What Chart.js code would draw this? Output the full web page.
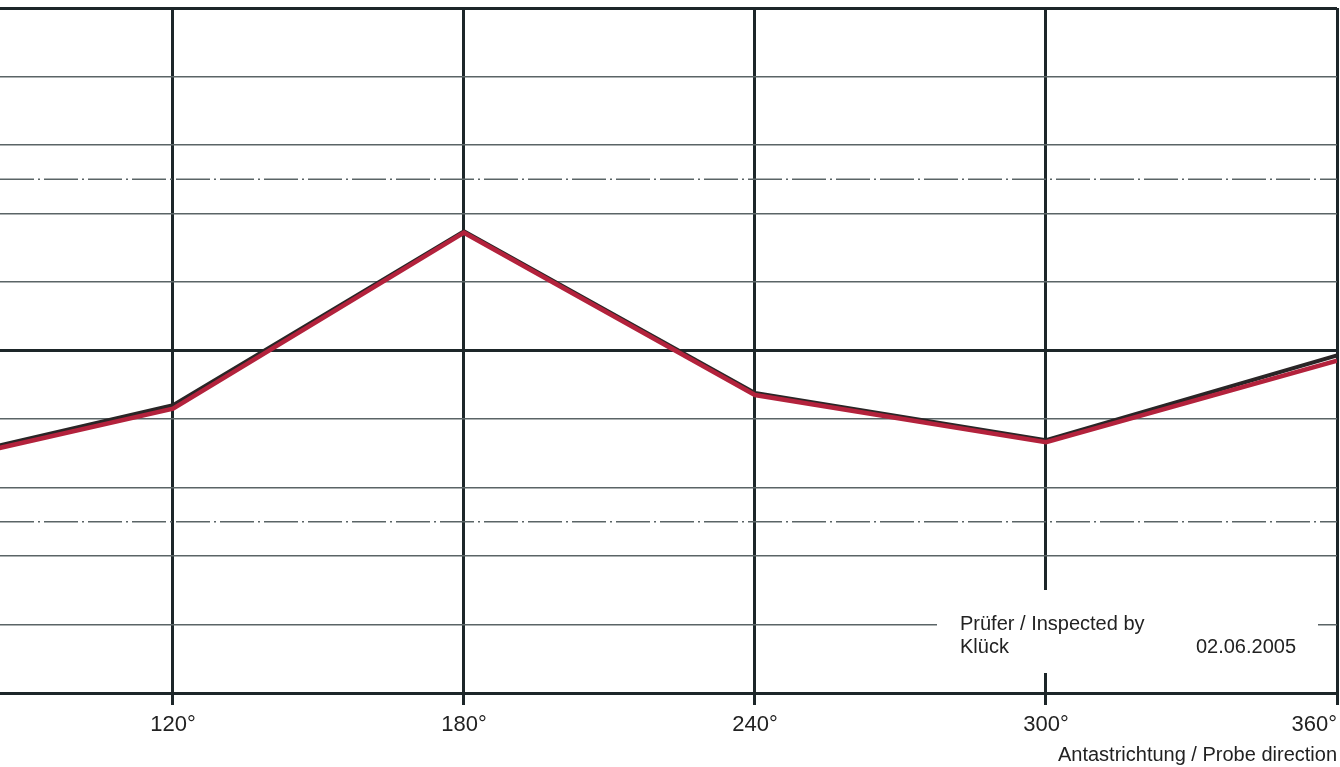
<!DOCTYPE html>
<html>
<head>
<meta charset="utf-8">
<script src="https://cdn.jsdelivr.net/npm/chart.js@4"></script>
<style>
  html, body { margin: 0; padding: 0; background: #fff; }
  #wrap { width: 1340px; height: 767px; position: relative; }
</style>
</head>
<body>
<div id="wrap"><canvas id="myChart"></canvas></div>
<script>
// probe direction in degrees, the 60° point lies left of the visible part
const angles = [60, 120, 180, 240, 300, 360];
const redValues = [3.19, 4.15, 6.72, 4.35, 3.66, 4.85];
const blackValues = [3.22, 4.20, 6.74, 4.38, 3.69, 4.93];
const xTickValues = [120, 180, 240, 300, 360];
const dashDotLevels = [2.5, 7.5];

const inspectedLabel = "Prüfer / Inspected by";
const inspectorName = "Klück";
const inspectionDate = "02.06.2005";
const axisTitle = "Antastrichtung / Probe direction";

const thick = "#1d2629";
const thin = "#5a6466";
const fontFamily = "'Liberation Sans', Arial, sans-serif";

const toPoints = (values) => values.map((v, i) => ({x: angles[i], y: v}));

/**
 * dash-dot reference lines, x tick labels and the inspector box
 */
const sheetPlugin = {
    id: "sheet",
    beforeDatasetsDraw (chart)
    {
        const {ctx, chartArea, scales: {y}} = chart;
        ctx.save();
        ctx.strokeStyle = thin;
        ctx.lineWidth = 1.5;
        ctx.setLineDash([34, 4, 2, 4]);
        dashDotLevels.forEach(level => {
            const py = y.getPixelForValue(level);
            ctx.beginPath();
            ctx.moveTo(chartArea.left, py);
            ctx.lineTo(chartArea.right, py);
            ctx.stroke();
        });
        ctx.restore();
    },
    afterDraw (chart)
    {
        const {ctx, chartArea, scales: {x}} = chart;
        ctx.save();

        // box over the grid, bottom right
        const boxLeft = chartArea.right - 400;
        const boxRight = chartArea.right - 19;
        const boxTop = chartArea.bottom - 103;
        const boxBottom = chartArea.bottom - 20;
        ctx.fillStyle = "#ffffff";
        ctx.fillRect(boxLeft, boxTop, boxRight - boxLeft, boxBottom - boxTop);

        ctx.fillStyle = "#222";
        ctx.font = `20px ${fontFamily}`;
        ctx.textBaseline = "alphabetic";
        ctx.textAlign = "left";
        ctx.fillText(inspectedLabel, boxLeft + 23, chartArea.bottom - 63);
        ctx.fillText(inspectorName, boxLeft + 23, chartArea.bottom - 40);
        ctx.textAlign = "right";
        ctx.fillText(inspectionDate, boxRight - 22, chartArea.bottom - 40);

        // tick labels, the last one kept inside the frame
        ctx.font = `22px ${fontFamily}`;
        ctx.textAlign = "left";
        x.ticks.forEach(tick => {
            const label = `${tick.value}°`;
            const w = ctx.measureText(label).width;
            let left = x.getPixelForValue(tick.value) - w / 2;
            if (left + w > chartArea.right) left = chartArea.right - w;
            ctx.fillText(label, left, chartArea.bottom + 38);
        });

        ctx.restore();
    }
};

const ctx = document.getElementById("myChart");

new Chart(ctx, {
    type: "line",
    data: {
        datasets: [
            {
                label: "red",
                data: toPoints(redValues),
                borderColor: "#b3223c",
                borderWidth: 4.5,
                pointRadius: 0,
                tension: 0
            },
            {
                label: "black",
                data: toPoints(blackValues),
                borderColor: "#2a2526",
                borderWidth: 4,
                pointRadius: 0,
                tension: 0
            }
        ]
    },
    options: {
        responsive: true,
        maintainAspectRatio: false,
        animation: false,
        layout: {padding: {top: 8, right: 3, left: 0, bottom: 0}},
        plugins: {
            legend: {display: false},
            tooltip: {enabled: false}
        },
        scales: {
            x: {
                type: "linear",
                min: 84.33,
                max: 360,
                afterBuildTicks: (scale) => {
                    scale.ticks = xTickValues.map(v => ({value: v}));
                },
                ticks: {display: false},
                grid: {
                    color: thick,
                    lineWidth: 3,
                    drawTicks: true,
                    tickLength: 12
                },
                border: {display: false},
                title: {
                    display: true,
                    text: axisTitle,
                    align: "end",
                    color: "#222",
                    font: {family: fontFamily, size: 20},
                    padding: {top: 38, bottom: 0}
                }
            },
            y: {
                min: 0,
                max: 10,
                ticks: {display: false, stepSize: 1},
                grid: {
                    drawTicks: false,
                    color: (c) => c.tick && c.tick.value % 5 === 0 ? thick : thin,
                    lineWidth: (c) => c.tick && c.tick.value % 5 === 0 ? 3 : 1.5
                },
                border: {display: false}
            }
        }
    },
    plugins: [sheetPlugin]
});
</script>
</body>
</html>
